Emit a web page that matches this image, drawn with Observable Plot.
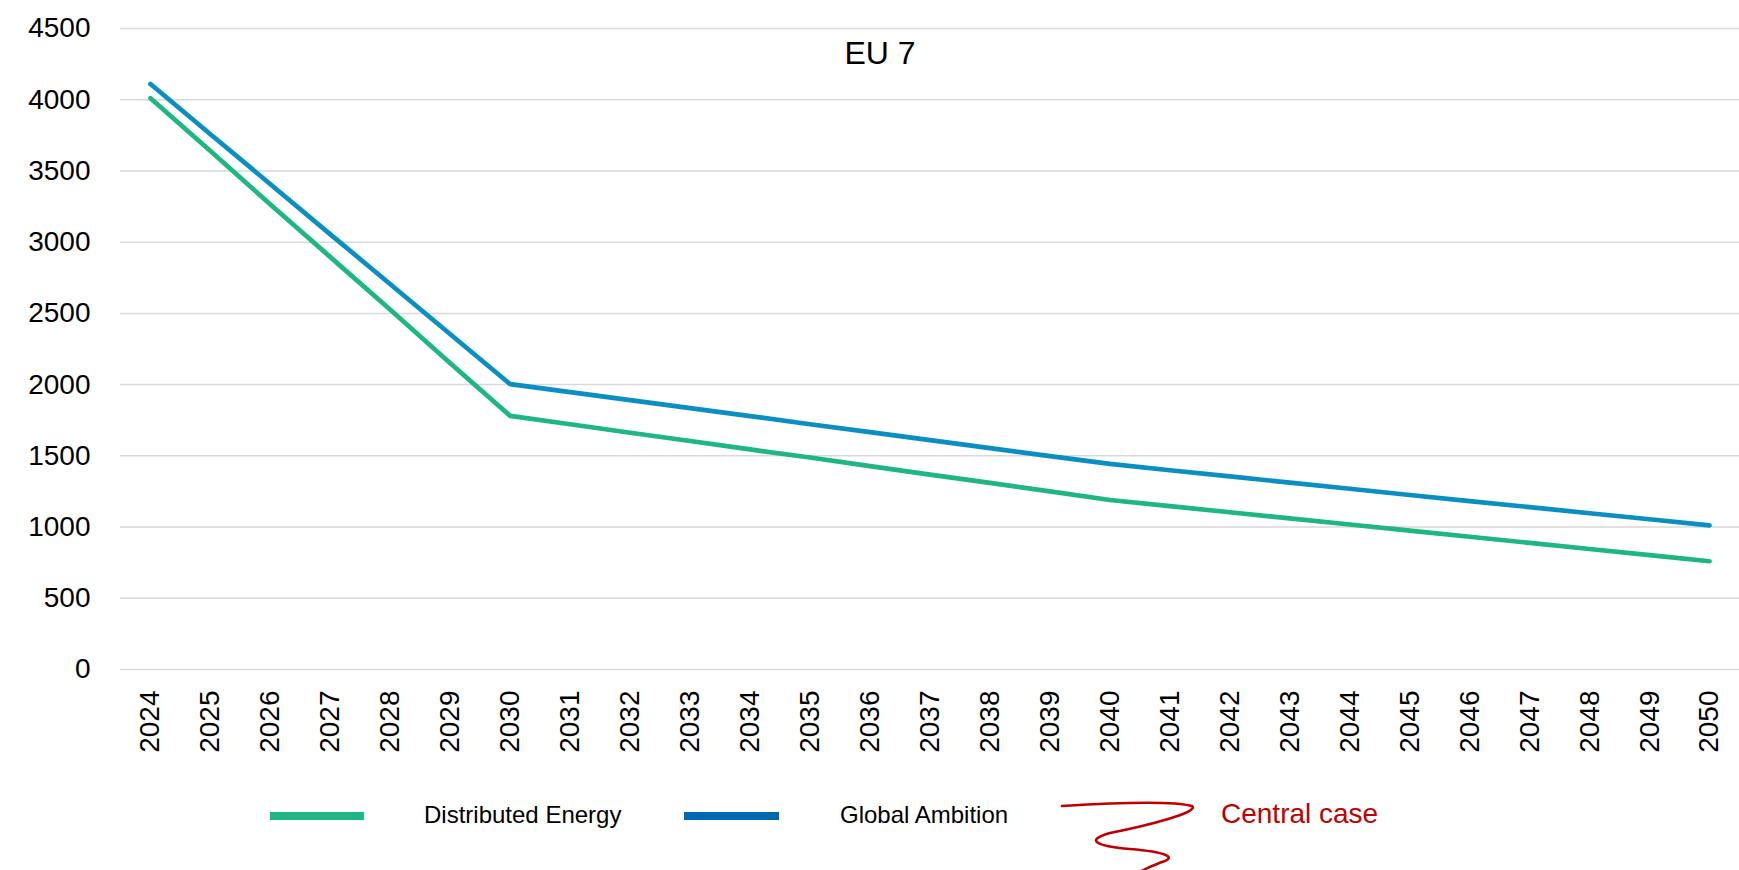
<!DOCTYPE html>
<html>
<head>
<meta charset="utf-8">
<script src="https://cdn.jsdelivr.net/npm/d3@7"></script>
<script src="https://cdn.jsdelivr.net/npm/@observablehq/plot@0.6"></script>
<style>
  html, body { margin: 0; padding: 0; background: #fff; }
  #wrap { position: relative; width: 1739px; height: 870px; overflow: hidden; font-family: "Liberation Sans", Arial, sans-serif; }
  #legend { position: absolute; left: 0; top: 760px; width: 1739px; height: 110px; }
  .sw { position: absolute; height: 8px; }
  .lt { position: absolute; font-size: 24px; line-height: 24px; color: #000; white-space: nowrap; }
</style>
</head>
<body>
<div id="wrap">
  <div id="chart"></div>
  <div id="legend"></div>
</div>
<script>
const title = "EU 7";
const years = [2024, 2025, 2026, 2027, 2028, 2029, 2030, 2031, 2032, 2033, 2034, 2035, 2036, 2037, 2038, 2039, 2040, 2041, 2042, 2043, 2044, 2045, 2046, 2047, 2048, 2049, 2050];
const seriesNames = ["Distributed Energy", "Global Ambition"];
const distributedEnergy = [4010, 3640, 3265, 2895, 2525, 2150, 1780, 1722, 1662, 1604, 1545, 1488, 1428, 1368, 1310, 1250, 1190, 1147, 1104, 1061, 1018, 975, 932, 889, 846, 803, 760];
const globalAmbition = [4110, 3758, 3407, 3055, 2705, 2354, 2003, 1947, 1891, 1835, 1779, 1722, 1666, 1610, 1554, 1498, 1443, 1399, 1356, 1312, 1269, 1225, 1182, 1140, 1097, 1055, 1012];
const yTicks = [0, 500, 1000, 1500, 2000, 2500, 3000, 3500, 4000, 4500];
const annotation = "Central case";

const lineColors = ["#1db77f", "#0a8fc2"];
const legendColors = ["#1fb883", "#0067b0"];

const data = [];
years.forEach((y, i) => {
  data.push({year: y, value: distributedEnergy[i], series: seriesNames[0]});
  data.push({year: y, value: globalAmbition[i], series: seriesNames[1]});
});

const chart = Plot.plot({
  width: 1739,
  height: 760,
  marginLeft: 120,
  marginRight: 0,
  marginTop: 28,
  marginBottom: 91,
  style: {fontFamily: "'Liberation Sans', Arial, sans-serif", fontSize: "28px", color: "#000", background: "#fff", overflow: "visible"},
  x: {type: "point", domain: years, padding: 0.5, round: false, label: null, tickRotate: -90, tickSize: 0, tickPadding: 21, tickFormat: d => String(d)},
  y: {domain: [0, 4500], ticks: yTicks, label: null, tickSize: 0, tickPadding: 30, tickFormat: d => String(d)},
  color: {domain: seriesNames, range: lineColors},
  marks: [
    Plot.ruleY(yTicks, {stroke: "#d9d9d9", strokeWidth: 1.5}),
    Plot.line(data, {x: "year", y: "value", z: "series", stroke: "series", strokeWidth: 4.7, strokeLinecap: "round", strokeLinejoin: "round"}),
    Plot.text([title], {frameAnchor: "top", dx: -50, dy: 25, fontSize: 32, lineAnchor: "middle", fill: "#000"})
  ]
});
document.getElementById("chart").appendChild(chart);

// Legend (below the plot)
const legend = document.getElementById("legend");
const items = [
  {name: seriesNames[0], color: legendColors[0], swx: 270, swW: 94, tx: 424},
  {name: seriesNames[1], color: legendColors[1], swx: 684, swW: 95, tx: 840}
];
items.forEach(it => {
  const sw = document.createElement("div");
  sw.className = "sw";
  sw.style.left = it.swx + "px";
  sw.style.top = (816 - 760 - 4) + "px";
  sw.style.width = it.swW + "px";
  sw.style.background = it.color;
  legend.appendChild(sw);
  const t = document.createElement("div");
  t.className = "lt";
  t.style.left = it.tx + "px";
  t.style.top = (815 - 760 - 12) + "px";
  t.textContent = it.name;
  legend.appendChild(t);
});
// hand-drawn squiggle + annotation
const svgNS = "http://www.w3.org/2000/svg";
const sq = document.createElementNS(svgNS, "svg");
sq.setAttribute("width", 1739);
sq.setAttribute("height", 110);
sq.style.position = "absolute";
sq.style.left = "0px";
sq.style.top = "0px";
const g = document.createElementNS(svgNS, "g");
g.setAttribute("transform", "translate(0,-760)");
const p = document.createElementNS(svgNS, "path");
p.setAttribute("d", "M1062,806 C1110,803 1170,800 1192,806 C1200,812 1150,825 1110,833 C1085,840 1095,846 1130,849 C1165,852 1178,857 1162,862 C1152,866 1146,868 1140,872");
p.setAttribute("fill", "none");
p.setAttribute("stroke", "#c00000");
p.setAttribute("stroke-width", 2.6);
p.setAttribute("stroke-linecap", "round");
g.appendChild(p);
sq.appendChild(g);
legend.appendChild(sq);
const ct = document.createElement("div");
ct.className = "lt";
ct.style.left = "1221px";
ct.style.top = (814 - 760 - 15) + "px";
ct.style.fontSize = "28px";
ct.style.lineHeight = "30px";
ct.style.color = "#c00000";
ct.textContent = annotation;
legend.appendChild(ct);
</script>
</body>
</html>
